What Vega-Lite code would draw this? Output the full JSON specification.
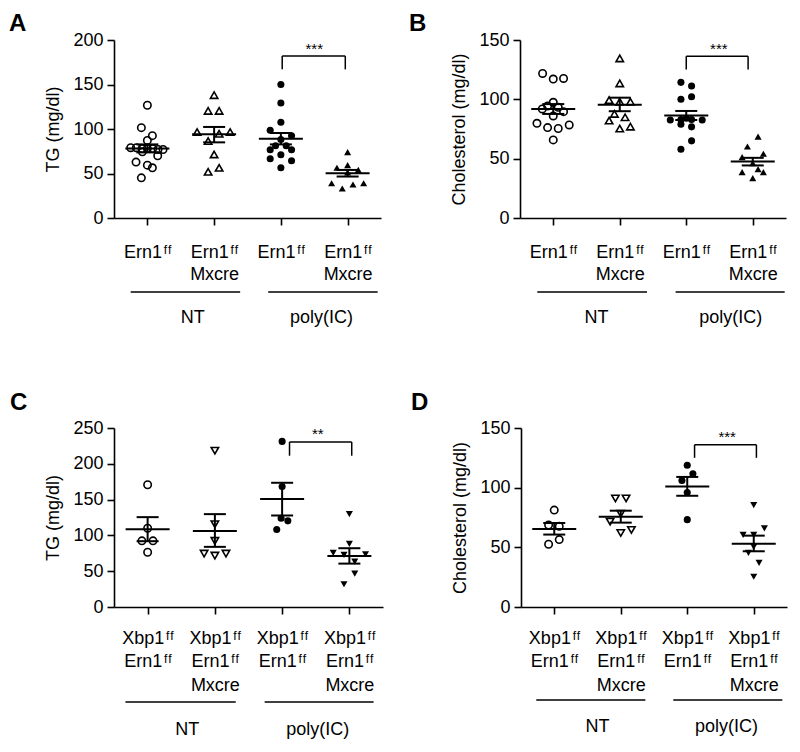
{
"$schema": "https://vega.github.io/schema/vega-lite/v6.json",
"background": "white",
"padding": {"left": 9, "top": 12, "right": 5, "bottom": 5},
"config": {
  "font": "Liberation Sans",
  "view": {"stroke": null},
  "axis": {"domainColor": "black", "tickColor": "black", "labelColor": "black", "titleColor": "black", "domainWidth": 1.6, "tickWidth": 1.6, "tickSize": 7, "labelFontSize": 18, "titleFontSize": 18, "titleFontWeight": "normal", "grid": false, "labelFont": "Liberation Sans", "titleFont": "Liberation Sans", "labelOverlap": false, "labelFlush": false},
  "title": {"fontSize": 24, "fontWeight": "bold", "anchor": "start", "color": "black", "font": "Liberation Sans", "frame": "group", "offset": 0}
},
"datasets": {
  "points": [
    {"panel":"A","treatment":"NT","genotype":"ctrl","x":1.0,"value":126.7},
    {"panel":"A","treatment":"NT","genotype":"ctrl","x":0.91,"value":101.5},
    {"panel":"A","treatment":"NT","genotype":"ctrl","x":1.075,"value":92.5},
    {"panel":"A","treatment":"NT","genotype":"ctrl","x":1.0,"value":87.2},
    {"panel":"A","treatment":"NT","genotype":"ctrl","x":0.75,"value":79},
    {"panel":"A","treatment":"NT","genotype":"ctrl","x":0.835,"value":79},
    {"panel":"A","treatment":"NT","genotype":"ctrl","x":0.92,"value":78},
    {"panel":"A","treatment":"NT","genotype":"ctrl","x":1.0,"value":78},
    {"panel":"A","treatment":"NT","genotype":"ctrl","x":1.08,"value":78},
    {"panel":"A","treatment":"NT","genotype":"ctrl","x":1.16,"value":77},
    {"panel":"A","treatment":"NT","genotype":"ctrl","x":1.235,"value":77},
    {"panel":"A","treatment":"NT","genotype":"ctrl","x":0.925,"value":74.4},
    {"panel":"A","treatment":"NT","genotype":"ctrl","x":1.155,"value":69.9},
    {"panel":"A","treatment":"NT","genotype":"ctrl","x":0.83,"value":62.8},
    {"panel":"A","treatment":"NT","genotype":"ctrl","x":1.0,"value":59.4},
    {"panel":"A","treatment":"NT","genotype":"ctrl","x":1.075,"value":56.4},
    {"panel":"A","treatment":"NT","genotype":"ctrl","x":0.91,"value":45.1},
    {"panel":"A","treatment":"NT","genotype":"cre","x":2.0,"value":138},
    {"panel":"A","treatment":"NT","genotype":"cre","x":1.91,"value":120.3},
    {"panel":"A","treatment":"NT","genotype":"cre","x":2.075,"value":120.3},
    {"panel":"A","treatment":"NT","genotype":"cre","x":1.745,"value":96.6},
    {"panel":"A","treatment":"NT","genotype":"cre","x":2.075,"value":94.7},
    {"panel":"A","treatment":"NT","genotype":"cre","x":2.24,"value":96.6},
    {"panel":"A","treatment":"NT","genotype":"cre","x":1.91,"value":86.5},
    {"panel":"A","treatment":"NT","genotype":"cre","x":2.0,"value":71.4},
    {"panel":"A","treatment":"NT","genotype":"cre","x":1.91,"value":51.9},
    {"panel":"A","treatment":"NT","genotype":"cre","x":2.075,"value":56.4},
    {"panel":"A","treatment":"poly","genotype":"ctrl","x":3.0,"value":150},
    {"panel":"A","treatment":"poly","genotype":"ctrl","x":3.0,"value":129.3},
    {"panel":"A","treatment":"poly","genotype":"ctrl","x":3.0,"value":107.5},
    {"panel":"A","treatment":"poly","genotype":"ctrl","x":2.84,"value":98.5},
    {"panel":"A","treatment":"poly","genotype":"ctrl","x":3.16,"value":92.5},
    {"panel":"A","treatment":"poly","genotype":"ctrl","x":3.0,"value":88.3},
    {"panel":"A","treatment":"poly","genotype":"ctrl","x":2.92,"value":81.2},
    {"panel":"A","treatment":"poly","genotype":"ctrl","x":3.08,"value":81.2},
    {"panel":"A","treatment":"poly","genotype":"ctrl","x":2.84,"value":76.7},
    {"panel":"A","treatment":"poly","genotype":"ctrl","x":3.16,"value":76.7},
    {"panel":"A","treatment":"poly","genotype":"ctrl","x":3.0,"value":71},
    {"panel":"A","treatment":"poly","genotype":"ctrl","x":2.84,"value":66.5},
    {"panel":"A","treatment":"poly","genotype":"ctrl","x":3.16,"value":64.3},
    {"panel":"A","treatment":"poly","genotype":"ctrl","x":3.0,"value":56.4},
    {"panel":"A","treatment":"poly","genotype":"cre","x":4.0,"value":74},
    {"panel":"A","treatment":"poly","genotype":"cre","x":3.84,"value":56.4},
    {"panel":"A","treatment":"poly","genotype":"cre","x":4.0,"value":59.4},
    {"panel":"A","treatment":"poly","genotype":"cre","x":4.16,"value":54.1},
    {"panel":"A","treatment":"poly","genotype":"cre","x":4.0,"value":51.1},
    {"panel":"A","treatment":"poly","genotype":"cre","x":3.76,"value":39.1},
    {"panel":"A","treatment":"poly","genotype":"cre","x":3.92,"value":33.1},
    {"panel":"A","treatment":"poly","genotype":"cre","x":4.08,"value":37.6},
    {"panel":"A","treatment":"poly","genotype":"cre","x":4.24,"value":39.1},

    {"panel":"B","treatment":"NT","genotype":"ctrl","x":0.84,"value":121.8},
    {"panel":"B","treatment":"NT","genotype":"ctrl","x":1.0,"value":117.1},
    {"panel":"B","treatment":"NT","genotype":"ctrl","x":1.155,"value":117.6},
    {"panel":"B","treatment":"NT","genotype":"ctrl","x":1.0,"value":97.5},
    {"panel":"B","treatment":"NT","genotype":"ctrl","x":0.915,"value":94.4},
    {"panel":"B","treatment":"NT","genotype":"ctrl","x":1.075,"value":93.3},
    {"panel":"B","treatment":"NT","genotype":"ctrl","x":0.835,"value":91.9},
    {"panel":"B","treatment":"NT","genotype":"ctrl","x":1.155,"value":89.6},
    {"panel":"B","treatment":"NT","genotype":"ctrl","x":1.0,"value":86},
    {"panel":"B","treatment":"NT","genotype":"ctrl","x":0.755,"value":79.8},
    {"panel":"B","treatment":"NT","genotype":"ctrl","x":0.915,"value":76.2},
    {"panel":"B","treatment":"NT","genotype":"ctrl","x":1.075,"value":75.4},
    {"panel":"B","treatment":"NT","genotype":"ctrl","x":1.24,"value":78.4},
    {"panel":"B","treatment":"NT","genotype":"ctrl","x":1.0,"value":65.8},
    {"panel":"B","treatment":"NT","genotype":"cre","x":2.0,"value":134.5},
    {"panel":"B","treatment":"NT","genotype":"cre","x":2.0,"value":113.4},
    {"panel":"B","treatment":"NT","genotype":"cre","x":1.84,"value":99.4},
    {"panel":"B","treatment":"NT","genotype":"cre","x":2.0,"value":98},
    {"panel":"B","treatment":"NT","genotype":"cre","x":2.16,"value":98},
    {"panel":"B","treatment":"NT","genotype":"cre","x":1.92,"value":87.7},
    {"panel":"B","treatment":"NT","genotype":"cre","x":2.08,"value":84.9},
    {"panel":"B","treatment":"NT","genotype":"cre","x":1.84,"value":82.1},
    {"panel":"B","treatment":"NT","genotype":"cre","x":2.0,"value":75.4},
    {"panel":"B","treatment":"NT","genotype":"cre","x":2.16,"value":77},
    {"panel":"B","treatment":"poly","genotype":"ctrl","x":2.92,"value":114.3},
    {"panel":"B","treatment":"poly","genotype":"ctrl","x":3.08,"value":111.2},
    {"panel":"B","treatment":"poly","genotype":"ctrl","x":2.92,"value":100},
    {"panel":"B","treatment":"poly","genotype":"ctrl","x":3.08,"value":102.2},
    {"panel":"B","treatment":"poly","genotype":"ctrl","x":2.76,"value":82.6},
    {"panel":"B","treatment":"poly","genotype":"ctrl","x":2.92,"value":83},
    {"panel":"B","treatment":"poly","genotype":"ctrl","x":3.0,"value":84},
    {"panel":"B","treatment":"poly","genotype":"ctrl","x":3.08,"value":83},
    {"panel":"B","treatment":"poly","genotype":"ctrl","x":3.24,"value":82.6},
    {"panel":"B","treatment":"poly","genotype":"ctrl","x":2.92,"value":79},
    {"panel":"B","treatment":"poly","genotype":"ctrl","x":3.08,"value":76.8},
    {"panel":"B","treatment":"poly","genotype":"ctrl","x":3.08,"value":65},
    {"panel":"B","treatment":"poly","genotype":"ctrl","x":2.92,"value":58},
    {"panel":"B","treatment":"poly","genotype":"cre","x":4.08,"value":68.6},
    {"panel":"B","treatment":"poly","genotype":"cre","x":3.92,"value":60.2},
    {"panel":"B","treatment":"poly","genotype":"cre","x":3.84,"value":51.3},
    {"panel":"B","treatment":"poly","genotype":"cre","x":4.16,"value":54.1},
    {"panel":"B","treatment":"poly","genotype":"cre","x":4.0,"value":46.2},
    {"panel":"B","treatment":"poly","genotype":"cre","x":3.84,"value":38.7},
    {"panel":"B","treatment":"poly","genotype":"cre","x":4.08,"value":41.2},
    {"panel":"B","treatment":"poly","genotype":"cre","x":4.16,"value":38.7},
    {"panel":"B","treatment":"poly","genotype":"cre","x":4.0,"value":33.6},

    {"panel":"C","treatment":"NT","genotype":"ctrl","x":1.0,"value":170.7},
    {"panel":"C","treatment":"NT","genotype":"ctrl","x":1.0,"value":110},
    {"panel":"C","treatment":"NT","genotype":"ctrl","x":0.915,"value":92.4},
    {"panel":"C","treatment":"NT","genotype":"ctrl","x":1.08,"value":92.4},
    {"panel":"C","treatment":"NT","genotype":"ctrl","x":1.0,"value":76.5},
    {"panel":"C","treatment":"NT","genotype":"cre","x":2.0,"value":218.3},
    {"panel":"C","treatment":"NT","genotype":"cre","x":2.0,"value":115.7},
    {"panel":"C","treatment":"NT","genotype":"cre","x":2.0,"value":92.4},
    {"panel":"C","treatment":"NT","genotype":"cre","x":1.84,"value":74.6},
    {"panel":"C","treatment":"NT","genotype":"cre","x":2.0,"value":71.8},
    {"panel":"C","treatment":"NT","genotype":"cre","x":2.165,"value":74.6},
    {"panel":"C","treatment":"poly","genotype":"ctrl","x":3.0,"value":231.3},
    {"panel":"C","treatment":"poly","genotype":"ctrl","x":3.0,"value":168.4},
    {"panel":"C","treatment":"poly","genotype":"ctrl","x":2.985,"value":124},
    {"panel":"C","treatment":"poly","genotype":"ctrl","x":3.085,"value":120.3},
    {"panel":"C","treatment":"poly","genotype":"ctrl","x":2.92,"value":108.2},
    {"panel":"C","treatment":"poly","genotype":"cre","x":4.0,"value":129.7},
    {"panel":"C","treatment":"poly","genotype":"cre","x":4.0,"value":88.2},
    {"panel":"C","treatment":"poly","genotype":"cre","x":3.76,"value":75.6},
    {"panel":"C","treatment":"poly","genotype":"cre","x":3.92,"value":72.8},
    {"panel":"C","treatment":"poly","genotype":"cre","x":4.24,"value":73.7},
    {"panel":"C","treatment":"poly","genotype":"cre","x":4.08,"value":63.4},
    {"panel":"C","treatment":"poly","genotype":"cre","x":4.08,"value":46.6},
    {"panel":"C","treatment":"poly","genotype":"cre","x":3.92,"value":31.7},

    {"panel":"D","treatment":"NT","genotype":"ctrl","x":1.0,"value":81.2},
    {"panel":"D","treatment":"NT","genotype":"ctrl","x":0.915,"value":68.7},
    {"panel":"D","treatment":"NT","genotype":"ctrl","x":1.075,"value":67.6},
    {"panel":"D","treatment":"NT","genotype":"ctrl","x":0.915,"value":52.6},
    {"panel":"D","treatment":"NT","genotype":"ctrl","x":1.075,"value":56.5},
    {"panel":"D","treatment":"NT","genotype":"cre","x":1.92,"value":91},
    {"panel":"D","treatment":"NT","genotype":"cre","x":2.08,"value":91},
    {"panel":"D","treatment":"NT","genotype":"cre","x":2.0,"value":78.2},
    {"panel":"D","treatment":"NT","genotype":"cre","x":1.84,"value":71.5},
    {"panel":"D","treatment":"NT","genotype":"cre","x":2.16,"value":64.6},
    {"panel":"D","treatment":"NT","genotype":"cre","x":2.0,"value":62},
    {"panel":"D","treatment":"poly","genotype":"ctrl","x":3.0,"value":118.8},
    {"panel":"D","treatment":"poly","genotype":"ctrl","x":3.085,"value":111.6},
    {"panel":"D","treatment":"poly","genotype":"ctrl","x":2.92,"value":106},
    {"panel":"D","treatment":"poly","genotype":"ctrl","x":3.0,"value":96},
    {"panel":"D","treatment":"poly","genotype":"ctrl","x":3.0,"value":73.2},
    {"panel":"D","treatment":"poly","genotype":"cre","x":4.0,"value":85.4},
    {"panel":"D","treatment":"poly","genotype":"cre","x":4.16,"value":65.9},
    {"panel":"D","treatment":"poly","genotype":"cre","x":3.84,"value":60.4},
    {"panel":"D","treatment":"poly","genotype":"cre","x":4.0,"value":60.4},
    {"panel":"D","treatment":"poly","genotype":"cre","x":4.0,"value":50.4},
    {"panel":"D","treatment":"poly","genotype":"cre","x":3.92,"value":45.4},
    {"panel":"D","treatment":"poly","genotype":"cre","x":4.08,"value":37},
    {"panel":"D","treatment":"poly","genotype":"cre","x":4.0,"value":25.3}
  ],
  "summary": [
    {"panel":"A","x":1,"mean":78.2,"lo":73.7,"hi":82.7},
    {"panel":"A","x":2,"mean":94,"lo":85,"hi":102.3},
    {"panel":"A","x":3,"mean":89,"lo":82.7,"hi":95.5},
    {"panel":"A","x":4,"mean":50.4,"lo":46.6,"hi":54},
    {"panel":"B","x":1,"mean":91.9,"lo":87.7,"hi":96},
    {"panel":"B","x":2,"mean":95.5,"lo":90,"hi":101.4},
    {"panel":"B","x":3,"mean":86.3,"lo":82.6,"hi":90.2},
    {"panel":"B","x":4,"mean":47.6,"lo":44.3,"hi":50.7},
    {"panel":"C","x":1,"mean":108.7,"lo":91.9,"hi":125.5},
    {"panel":"C","x":2,"mean":106.3,"lo":84,"hi":129.7},
    {"panel":"C","x":3,"mean":150.7,"lo":127.8,"hi":173.5},
    {"panel":"C","x":4,"mean":71.4,"lo":60.6,"hi":82.1},
    {"panel":"D","x":1,"mean":65.4,"lo":60.7,"hi":70.4},
    {"panel":"D","x":2,"mean":75.7,"lo":70.7,"hi":80.7},
    {"panel":"D","x":3,"mean":101,"lo":93.2,"hi":109},
    {"panel":"D","x":4,"mean":53.1,"lo":46.7,"hi":59.8}
  ],
  "brackets": [
    {"panel":"A","x1":3.02,"x2":3.965,"top":182,"bot":167,"sx":3.5,"sy":184,"label":"***"},
    {"panel":"B","x1":3.0,"x2":3.93,"top":136.4,"bot":125.2,"sx":3.49,"sy":138.5,"label":"***"},
    {"panel":"C","x1":3.11,"x2":4.035,"top":230.4,"bot":211.3,"sx":3.53,"sy":234,"label":"**"},
    {"panel":"D","x1":3.11,"x2":4.04,"top":136,"bot":125,"sx":3.6,"sy":138.6,"label":"***"}
  ],
  "groups": [
    {"panel":"A","name":"NT","start":0.75,"end":2.39,"mid":1.68},
    {"panel":"A","name":"poly(IC)","start":2.81,"end":4.45,"mid":3.61},
    {"panel":"B","name":"NT","start":0.76,"end":2.41,"mid":1.65},
    {"panel":"B","name":"poly(IC)","start":2.84,"end":4.48,"mid":3.67},
    {"panel":"C","name":"NT","start":0.67,"end":2.31,"mid":1.59},
    {"panel":"C","name":"poly(IC)","start":2.74,"end":4.36,"mid":3.53},
    {"panel":"D","name":"NT","start":0.73,"end":2.37,"mid":1.65},
    {"panel":"D","name":"poly(IC)","start":2.79,"end":4.43,"mid":3.59}
  ]
},
"spacing": 63,
"resolve": {"scale": {"shape": "independent"}},
"vconcat": [
 {"spacing": 28, "resolve": {"scale": {"shape": "independent"}}, "hconcat": [
  {"width": 267, "height": 178, "title": {"text": "A", "dx": -105, "dy": 9},
   "layer": [
    {"data": {"name": "points"}, "transform": [{"filter": "datum.panel == 'A' && datum.treatment == 'NT'"}],
     "mark": {"type": "point", "filled": false, "stroke": "black", "strokeWidth": 1.6, "size": 55, "opacity": 1},
     "encoding": {
       "x": {"field": "x", "type": "quantitative", "scale": {"domain": [0.5, 4.5], "nice": false, "zero": false},
             "axis": {"title": null, "values": [1, 2, 3, 4], "labelPadding": 18, "labelLineHeight": 22,
                      "labelExpr": "datum.value == 1 || datum.value == 3 ? 'Ern1\u200a\u1da0\u1da0' : ['Ern1\u200a\u1da0\u1da0', 'Mxcre']"}},
       "y": {"field": "value", "type": "quantitative", "scale": {"domain": [0, 200], "nice": false},
             "axis": {"title": "TG (mg/dl)", "values": [0, 50, 100, 150, 200], "labelPadding": 4, "titlePadding": 10, "labelOverlap": false}},
       "shape": {"field": "genotype", "type": "nominal", "scale": {"domain": ["ctrl", "cre"], "range": ["circle", "triangle-up"]}, "legend": null}
     }},
    {"data": {"name": "points"}, "transform": [{"filter": "datum.panel == 'A' && datum.treatment == 'poly'"}],
     "mark": {"type": "point", "filled": true, "fill": "black", "size": 50, "opacity": 1},
     "encoding": {
       "x": {"field": "x", "type": "quantitative", "scale": {"domain": [0.5, 4.5], "nice": false, "zero": false}},
       "y": {"field": "value", "type": "quantitative", "scale": {"domain": [0, 200], "nice": false}},
       "shape": {"field": "genotype", "type": "nominal", "scale": {"domain": ["ctrl", "cre"], "range": ["circle", "triangle-up"]}, "legend": null}
     }},
    {"data": {"name": "summary"}, "transform": [{"filter": "datum.panel == 'A'"}],
     "mark": {"type": "tick", "orient": "horizontal", "size": 44, "thickness": 2, "color": "black", "opacity": 1},
     "encoding": {"x": {"field": "x", "type": "quantitative", "scale": {"domain": [0.5, 4.5], "nice": false, "zero": false}},
                  "y": {"field": "mean", "type": "quantitative", "scale": {"domain": [0, 200], "nice": false}}}},
    {"data": {"name": "summary"}, "transform": [{"filter": "datum.panel == 'A'"}],
     "mark": {"type": "tick", "orient": "horizontal", "size": 22, "thickness": 2, "color": "black", "opacity": 1},
     "encoding": {"x": {"field": "x", "type": "quantitative", "scale": {"domain": [0.5, 4.5], "nice": false, "zero": false}},
                  "y": {"field": "lo", "type": "quantitative", "scale": {"domain": [0, 200], "nice": false}}}},
    {"data": {"name": "summary"}, "transform": [{"filter": "datum.panel == 'A'"}],
     "mark": {"type": "tick", "orient": "horizontal", "size": 22, "thickness": 2, "color": "black", "opacity": 1},
     "encoding": {"x": {"field": "x", "type": "quantitative", "scale": {"domain": [0.5, 4.5], "nice": false, "zero": false}},
                  "y": {"field": "hi", "type": "quantitative", "scale": {"domain": [0, 200], "nice": false}}}},
    {"data": {"name": "summary"}, "transform": [{"filter": "datum.panel == 'A'"}],
     "mark": {"type": "rule", "strokeWidth": 2, "color": "black"},
     "encoding": {"x": {"field": "x", "type": "quantitative", "scale": {"domain": [0.5, 4.5], "nice": false, "zero": false}},
                  "y": {"field": "lo", "type": "quantitative", "scale": {"domain": [0, 200], "nice": false}},
                  "y2": {"field": "hi"}}},
    {"data": {"name": "brackets"}, "transform": [{"filter": "datum.panel == 'A'"}],
     "mark": {"type": "rule", "strokeWidth": 1.5, "color": "black"},
     "encoding": {"x": {"field": "x1", "type": "quantitative", "scale": {"domain": [0.5, 4.5], "nice": false, "zero": false}}, "x2": {"field": "x2"},
                  "y": {"field": "top", "type": "quantitative", "scale": {"domain": [0, 200], "nice": false}}}},
    {"data": {"name": "brackets"}, "transform": [{"filter": "datum.panel == 'A'"}],
     "mark": {"type": "rule", "strokeWidth": 1.5, "color": "black"},
     "encoding": {"x": {"field": "x1", "type": "quantitative", "scale": {"domain": [0.5, 4.5], "nice": false, "zero": false}},
                  "y": {"field": "bot", "type": "quantitative", "scale": {"domain": [0, 200], "nice": false}}, "y2": {"field": "top"}}},
    {"data": {"name": "brackets"}, "transform": [{"filter": "datum.panel == 'A'"}],
     "mark": {"type": "rule", "strokeWidth": 1.5, "color": "black"},
     "encoding": {"x": {"field": "x2", "type": "quantitative", "scale": {"domain": [0.5, 4.5], "nice": false, "zero": false}},
                  "y": {"field": "bot", "type": "quantitative", "scale": {"domain": [0, 200], "nice": false}}, "y2": {"field": "top"}}},
    {"data": {"name": "brackets"}, "transform": [{"filter": "datum.panel == 'A'"}],
     "mark": {"type": "text", "fontSize": 15, "color": "black", "baseline": "alphabetic", "align": "center"},
     "encoding": {"x": {"field": "sx", "type": "quantitative", "scale": {"domain": [0.5, 4.5], "nice": false, "zero": false}},
                  "y": {"field": "sy", "type": "quantitative", "scale": {"domain": [0, 200], "nice": false}},
                  "text": {"field": "label"}}},
    {"data": {"name": "groups"}, "transform": [{"filter": "datum.panel == 'A'"}],
     "mark": {"type": "rule", "strokeWidth": 1.5, "color": "black"},
     "encoding": {"x": {"field": "start", "type": "quantitative", "scale": {"domain": [0.5, 4.5], "nice": false, "zero": false}}, "x2": {"field": "end"},
                  "y": {"datum": -83.1, "type": "quantitative", "scale": {"domain": [0, 200], "nice": false}}}},
    {"data": {"name": "groups"}, "transform": [{"filter": "datum.panel == 'A'"}],
     "mark": {"type": "text", "fontSize": 18, "color": "black", "baseline": "alphabetic", "align": "center"},
     "encoding": {"x": {"field": "mid", "type": "quantitative", "scale": {"domain": [0.5, 4.5], "nice": false, "zero": false}},
                  "y": {"datum": -118, "type": "quantitative", "scale": {"domain": [0, 200], "nice": false}},
                  "text": {"field": "name"}}}
   ]},
  {"width": 266, "height": 178, "title": {"text": "B", "dx": -111, "dy": 9},
   "layer": [
    {"data": {"name": "points"}, "transform": [{"filter": "datum.panel == 'B' && datum.treatment == 'NT'"}],
     "mark": {"type": "point", "filled": false, "stroke": "black", "strokeWidth": 1.6, "size": 55, "opacity": 1},
     "encoding": {
       "x": {"field": "x", "type": "quantitative", "scale": {"domain": [0.5, 4.5], "nice": false, "zero": false},
             "axis": {"title": null, "values": [1, 2, 3, 4], "labelPadding": 18, "labelLineHeight": 22,
                      "labelExpr": "datum.value == 1 || datum.value == 3 ? 'Ern1\u200a\u1da0\u1da0' : ['Ern1\u200a\u1da0\u1da0', 'Mxcre']"}},
       "y": {"field": "value", "type": "quantitative", "scale": {"domain": [0, 150], "nice": false},
             "axis": {"title": "Cholesterol (mg/dl)", "values": [0, 50, 100, 150], "labelPadding": 4, "titlePadding": 10, "labelOverlap": false}},
       "shape": {"field": "genotype", "type": "nominal", "scale": {"domain": ["ctrl", "cre"], "range": ["circle", "triangle-up"]}, "legend": null}
     }},
    {"data": {"name": "points"}, "transform": [{"filter": "datum.panel == 'B' && datum.treatment == 'poly'"}],
     "mark": {"type": "point", "filled": true, "fill": "black", "size": 50, "opacity": 1},
     "encoding": {
       "x": {"field": "x", "type": "quantitative", "scale": {"domain": [0.5, 4.5], "nice": false, "zero": false}},
       "y": {"field": "value", "type": "quantitative", "scale": {"domain": [0, 150], "nice": false}},
       "shape": {"field": "genotype", "type": "nominal", "scale": {"domain": ["ctrl", "cre"], "range": ["circle", "triangle-up"]}, "legend": null}
     }},
    {"data": {"name": "summary"}, "transform": [{"filter": "datum.panel == 'B'"}],
     "mark": {"type": "tick", "orient": "horizontal", "size": 44, "thickness": 2, "color": "black", "opacity": 1},
     "encoding": {"x": {"field": "x", "type": "quantitative", "scale": {"domain": [0.5, 4.5], "nice": false, "zero": false}},
                  "y": {"field": "mean", "type": "quantitative", "scale": {"domain": [0, 150], "nice": false}}}},
    {"data": {"name": "summary"}, "transform": [{"filter": "datum.panel == 'B'"}],
     "mark": {"type": "tick", "orient": "horizontal", "size": 22, "thickness": 2, "color": "black", "opacity": 1},
     "encoding": {"x": {"field": "x", "type": "quantitative", "scale": {"domain": [0.5, 4.5], "nice": false, "zero": false}},
                  "y": {"field": "lo", "type": "quantitative", "scale": {"domain": [0, 150], "nice": false}}}},
    {"data": {"name": "summary"}, "transform": [{"filter": "datum.panel == 'B'"}],
     "mark": {"type": "tick", "orient": "horizontal", "size": 22, "thickness": 2, "color": "black", "opacity": 1},
     "encoding": {"x": {"field": "x", "type": "quantitative", "scale": {"domain": [0.5, 4.5], "nice": false, "zero": false}},
                  "y": {"field": "hi", "type": "quantitative", "scale": {"domain": [0, 150], "nice": false}}}},
    {"data": {"name": "summary"}, "transform": [{"filter": "datum.panel == 'B'"}],
     "mark": {"type": "rule", "strokeWidth": 2, "color": "black"},
     "encoding": {"x": {"field": "x", "type": "quantitative", "scale": {"domain": [0.5, 4.5], "nice": false, "zero": false}},
                  "y": {"field": "lo", "type": "quantitative", "scale": {"domain": [0, 150], "nice": false}},
                  "y2": {"field": "hi"}}},
    {"data": {"name": "brackets"}, "transform": [{"filter": "datum.panel == 'B'"}],
     "mark": {"type": "rule", "strokeWidth": 1.5, "color": "black"},
     "encoding": {"x": {"field": "x1", "type": "quantitative", "scale": {"domain": [0.5, 4.5], "nice": false, "zero": false}}, "x2": {"field": "x2"},
                  "y": {"field": "top", "type": "quantitative", "scale": {"domain": [0, 150], "nice": false}}}},
    {"data": {"name": "brackets"}, "transform": [{"filter": "datum.panel == 'B'"}],
     "mark": {"type": "rule", "strokeWidth": 1.5, "color": "black"},
     "encoding": {"x": {"field": "x1", "type": "quantitative", "scale": {"domain": [0.5, 4.5], "nice": false, "zero": false}},
                  "y": {"field": "bot", "type": "quantitative", "scale": {"domain": [0, 150], "nice": false}}, "y2": {"field": "top"}}},
    {"data": {"name": "brackets"}, "transform": [{"filter": "datum.panel == 'B'"}],
     "mark": {"type": "rule", "strokeWidth": 1.5, "color": "black"},
     "encoding": {"x": {"field": "x2", "type": "quantitative", "scale": {"domain": [0.5, 4.5], "nice": false, "zero": false}},
                  "y": {"field": "bot", "type": "quantitative", "scale": {"domain": [0, 150], "nice": false}}, "y2": {"field": "top"}}},
    {"data": {"name": "brackets"}, "transform": [{"filter": "datum.panel == 'B'"}],
     "mark": {"type": "text", "fontSize": 15, "color": "black", "baseline": "alphabetic", "align": "center"},
     "encoding": {"x": {"field": "sx", "type": "quantitative", "scale": {"domain": [0.5, 4.5], "nice": false, "zero": false}},
                  "y": {"field": "sy", "type": "quantitative", "scale": {"domain": [0, 150], "nice": false}},
                  "text": {"field": "label"}}},
    {"data": {"name": "groups"}, "transform": [{"filter": "datum.panel == 'B'"}],
     "mark": {"type": "rule", "strokeWidth": 1.5, "color": "black"},
     "encoding": {"x": {"field": "start", "type": "quantitative", "scale": {"domain": [0.5, 4.5], "nice": false, "zero": false}}, "x2": {"field": "end"},
                  "y": {"datum": -62.4, "type": "quantitative", "scale": {"domain": [0, 150], "nice": false}}}},
    {"data": {"name": "groups"}, "transform": [{"filter": "datum.panel == 'B'"}],
     "mark": {"type": "text", "fontSize": 18, "color": "black", "baseline": "alphabetic", "align": "center"},
     "encoding": {"x": {"field": "mid", "type": "quantitative", "scale": {"domain": [0.5, 4.5], "nice": false, "zero": false}},
                  "y": {"datum": -88.5, "type": "quantitative", "scale": {"domain": [0, 150], "nice": false}},
                  "text": {"field": "name"}}}
   ]}
 ]},
 {"spacing": 28, "resolve": {"scale": {"shape": "independent"}}, "hconcat": [
  {"width": 269, "height": 179, "title": {"text": "C", "dx": -104},
   "layer": [
    {"data": {"name": "points"}, "transform": [{"filter": "datum.panel == 'C' && datum.treatment == 'NT'"}],
     "mark": {"type": "point", "filled": false, "stroke": "black", "strokeWidth": 1.6, "size": 55, "opacity": 1},
     "encoding": {
       "x": {"field": "x", "type": "quantitative", "scale": {"domain": [0.5, 4.5], "nice": false, "zero": false},
             "axis": {"title": null, "values": [1, 2, 3, 4], "labelPadding": 15, "labelLineHeight": 23.5,
                      "labelExpr": "datum.value == 1 || datum.value == 3 ? ['Xbp1\u200a\u1da0\u1da0', 'Ern1\u200a\u1da0\u1da0'] : ['Xbp1\u200a\u1da0\u1da0', 'Ern1\u200a\u1da0\u1da0', 'Mxcre']"}},
       "y": {"field": "value", "type": "quantitative", "scale": {"domain": [0, 250], "nice": false},
             "axis": {"title": "TG (mg/dl)", "values": [0, 50, 100, 150, 200, 250], "tickCount": 6, "labelPadding": 4, "titlePadding": 10, "labelOverlap": false, "labelSeparation": -40, "labelBound": false}},
       "shape": {"field": "genotype", "type": "nominal", "scale": {"domain": ["ctrl", "cre"], "range": ["circle", "triangle-down"]}, "legend": null}
     }},
    {"data": {"name": "points"}, "transform": [{"filter": "datum.panel == 'C' && datum.treatment == 'poly'"}],
     "mark": {"type": "point", "filled": true, "fill": "black", "size": 50, "opacity": 1},
     "encoding": {
       "x": {"field": "x", "type": "quantitative", "scale": {"domain": [0.5, 4.5], "nice": false, "zero": false}},
       "y": {"field": "value", "type": "quantitative", "scale": {"domain": [0, 250], "nice": false}},
       "shape": {"field": "genotype", "type": "nominal", "scale": {"domain": ["ctrl", "cre"], "range": ["circle", "triangle-down"]}, "legend": null}
     }},
    {"data": {"name": "summary"}, "transform": [{"filter": "datum.panel == 'C'"}],
     "mark": {"type": "tick", "orient": "horizontal", "size": 44, "thickness": 2, "color": "black", "opacity": 1},
     "encoding": {"x": {"field": "x", "type": "quantitative", "scale": {"domain": [0.5, 4.5], "nice": false, "zero": false}},
                  "y": {"field": "mean", "type": "quantitative", "scale": {"domain": [0, 250], "nice": false}}}},
    {"data": {"name": "summary"}, "transform": [{"filter": "datum.panel == 'C'"}],
     "mark": {"type": "tick", "orient": "horizontal", "size": 22, "thickness": 2, "color": "black", "opacity": 1},
     "encoding": {"x": {"field": "x", "type": "quantitative", "scale": {"domain": [0.5, 4.5], "nice": false, "zero": false}},
                  "y": {"field": "lo", "type": "quantitative", "scale": {"domain": [0, 250], "nice": false}}}},
    {"data": {"name": "summary"}, "transform": [{"filter": "datum.panel == 'C'"}],
     "mark": {"type": "tick", "orient": "horizontal", "size": 22, "thickness": 2, "color": "black", "opacity": 1},
     "encoding": {"x": {"field": "x", "type": "quantitative", "scale": {"domain": [0.5, 4.5], "nice": false, "zero": false}},
                  "y": {"field": "hi", "type": "quantitative", "scale": {"domain": [0, 250], "nice": false}}}},
    {"data": {"name": "summary"}, "transform": [{"filter": "datum.panel == 'C'"}],
     "mark": {"type": "rule", "strokeWidth": 2, "color": "black"},
     "encoding": {"x": {"field": "x", "type": "quantitative", "scale": {"domain": [0.5, 4.5], "nice": false, "zero": false}},
                  "y": {"field": "lo", "type": "quantitative", "scale": {"domain": [0, 250], "nice": false}},
                  "y2": {"field": "hi"}}},
    {"data": {"name": "brackets"}, "transform": [{"filter": "datum.panel == 'C'"}],
     "mark": {"type": "rule", "strokeWidth": 1.5, "color": "black"},
     "encoding": {"x": {"field": "x1", "type": "quantitative", "scale": {"domain": [0.5, 4.5], "nice": false, "zero": false}}, "x2": {"field": "x2"},
                  "y": {"field": "top", "type": "quantitative", "scale": {"domain": [0, 250], "nice": false}}}},
    {"data": {"name": "brackets"}, "transform": [{"filter": "datum.panel == 'C'"}],
     "mark": {"type": "rule", "strokeWidth": 1.5, "color": "black"},
     "encoding": {"x": {"field": "x1", "type": "quantitative", "scale": {"domain": [0.5, 4.5], "nice": false, "zero": false}},
                  "y": {"field": "bot", "type": "quantitative", "scale": {"domain": [0, 250], "nice": false}}, "y2": {"field": "top"}}},
    {"data": {"name": "brackets"}, "transform": [{"filter": "datum.panel == 'C'"}],
     "mark": {"type": "rule", "strokeWidth": 1.5, "color": "black"},
     "encoding": {"x": {"field": "x2", "type": "quantitative", "scale": {"domain": [0.5, 4.5], "nice": false, "zero": false}},
                  "y": {"field": "bot", "type": "quantitative", "scale": {"domain": [0, 250], "nice": false}}, "y2": {"field": "top"}}},
    {"data": {"name": "brackets"}, "transform": [{"filter": "datum.panel == 'C'"}],
     "mark": {"type": "text", "fontSize": 15, "color": "black", "baseline": "alphabetic", "align": "center"},
     "encoding": {"x": {"field": "sx", "type": "quantitative", "scale": {"domain": [0.5, 4.5], "nice": false, "zero": false}},
                  "y": {"field": "sy", "type": "quantitative", "scale": {"domain": [0, 250], "nice": false}},
                  "text": {"field": "label"}}},
    {"data": {"name": "groups"}, "transform": [{"filter": "datum.panel == 'C'"}],
     "mark": {"type": "rule", "strokeWidth": 1.5, "color": "black"},
     "encoding": {"x": {"field": "start", "type": "quantitative", "scale": {"domain": [0.5, 4.5], "nice": false, "zero": false}}, "x2": {"field": "end"},
                  "y": {"datum": -132.7, "type": "quantitative", "scale": {"domain": [0, 250], "nice": false}}}},
    {"data": {"name": "groups"}, "transform": [{"filter": "datum.panel == 'C'"}],
     "mark": {"type": "text", "fontSize": 18, "color": "black", "baseline": "alphabetic", "align": "center"},
     "encoding": {"x": {"field": "mid", "type": "quantitative", "scale": {"domain": [0.5, 4.5], "nice": false, "zero": false}},
                  "y": {"datum": -178.8, "type": "quantitative", "scale": {"domain": [0, 250], "nice": false}},
                  "text": {"field": "name"}}}
   ]},
  {"width": 266, "height": 179, "title": {"text": "D", "dx": -110},
   "layer": [
    {"data": {"name": "points"}, "transform": [{"filter": "datum.panel == 'D' && datum.treatment == 'NT'"}],
     "mark": {"type": "point", "filled": false, "stroke": "black", "strokeWidth": 1.6, "size": 55, "opacity": 1},
     "encoding": {
       "x": {"field": "x", "type": "quantitative", "scale": {"domain": [0.5, 4.5], "nice": false, "zero": false},
             "axis": {"title": null, "values": [1, 2, 3, 4], "labelPadding": 15, "labelLineHeight": 23.5,
                      "labelExpr": "datum.value == 1 || datum.value == 3 ? ['Xbp1\u200a\u1da0\u1da0', 'Ern1\u200a\u1da0\u1da0'] : ['Xbp1\u200a\u1da0\u1da0', 'Ern1\u200a\u1da0\u1da0', 'Mxcre']"}},
       "y": {"field": "value", "type": "quantitative", "scale": {"domain": [0, 150], "nice": false},
             "axis": {"title": "Cholesterol (mg/dl)", "values": [0, 50, 100, 150], "labelPadding": 4, "titlePadding": 10, "labelOverlap": false}},
       "shape": {"field": "genotype", "type": "nominal", "scale": {"domain": ["ctrl", "cre"], "range": ["circle", "triangle-down"]}, "legend": null}
     }},
    {"data": {"name": "points"}, "transform": [{"filter": "datum.panel == 'D' && datum.treatment == 'poly'"}],
     "mark": {"type": "point", "filled": true, "fill": "black", "size": 50, "opacity": 1},
     "encoding": {
       "x": {"field": "x", "type": "quantitative", "scale": {"domain": [0.5, 4.5], "nice": false, "zero": false}},
       "y": {"field": "value", "type": "quantitative", "scale": {"domain": [0, 150], "nice": false}},
       "shape": {"field": "genotype", "type": "nominal", "scale": {"domain": ["ctrl", "cre"], "range": ["circle", "triangle-down"]}, "legend": null}
     }},
    {"data": {"name": "summary"}, "transform": [{"filter": "datum.panel == 'D'"}],
     "mark": {"type": "tick", "orient": "horizontal", "size": 44, "thickness": 2, "color": "black", "opacity": 1},
     "encoding": {"x": {"field": "x", "type": "quantitative", "scale": {"domain": [0.5, 4.5], "nice": false, "zero": false}},
                  "y": {"field": "mean", "type": "quantitative", "scale": {"domain": [0, 150], "nice": false}}}},
    {"data": {"name": "summary"}, "transform": [{"filter": "datum.panel == 'D'"}],
     "mark": {"type": "tick", "orient": "horizontal", "size": 22, "thickness": 2, "color": "black", "opacity": 1},
     "encoding": {"x": {"field": "x", "type": "quantitative", "scale": {"domain": [0.5, 4.5], "nice": false, "zero": false}},
                  "y": {"field": "lo", "type": "quantitative", "scale": {"domain": [0, 150], "nice": false}}}},
    {"data": {"name": "summary"}, "transform": [{"filter": "datum.panel == 'D'"}],
     "mark": {"type": "tick", "orient": "horizontal", "size": 22, "thickness": 2, "color": "black", "opacity": 1},
     "encoding": {"x": {"field": "x", "type": "quantitative", "scale": {"domain": [0.5, 4.5], "nice": false, "zero": false}},
                  "y": {"field": "hi", "type": "quantitative", "scale": {"domain": [0, 150], "nice": false}}}},
    {"data": {"name": "summary"}, "transform": [{"filter": "datum.panel == 'D'"}],
     "mark": {"type": "rule", "strokeWidth": 2, "color": "black"},
     "encoding": {"x": {"field": "x", "type": "quantitative", "scale": {"domain": [0.5, 4.5], "nice": false, "zero": false}},
                  "y": {"field": "lo", "type": "quantitative", "scale": {"domain": [0, 150], "nice": false}},
                  "y2": {"field": "hi"}}},
    {"data": {"name": "brackets"}, "transform": [{"filter": "datum.panel == 'D'"}],
     "mark": {"type": "rule", "strokeWidth": 1.5, "color": "black"},
     "encoding": {"x": {"field": "x1", "type": "quantitative", "scale": {"domain": [0.5, 4.5], "nice": false, "zero": false}}, "x2": {"field": "x2"},
                  "y": {"field": "top", "type": "quantitative", "scale": {"domain": [0, 150], "nice": false}}}},
    {"data": {"name": "brackets"}, "transform": [{"filter": "datum.panel == 'D'"}],
     "mark": {"type": "rule", "strokeWidth": 1.5, "color": "black"},
     "encoding": {"x": {"field": "x1", "type": "quantitative", "scale": {"domain": [0.5, 4.5], "nice": false, "zero": false}},
                  "y": {"field": "bot", "type": "quantitative", "scale": {"domain": [0, 150], "nice": false}}, "y2": {"field": "top"}}},
    {"data": {"name": "brackets"}, "transform": [{"filter": "datum.panel == 'D'"}],
     "mark": {"type": "rule", "strokeWidth": 1.5, "color": "black"},
     "encoding": {"x": {"field": "x2", "type": "quantitative", "scale": {"domain": [0.5, 4.5], "nice": false, "zero": false}},
                  "y": {"field": "bot", "type": "quantitative", "scale": {"domain": [0, 150], "nice": false}}, "y2": {"field": "top"}}},
    {"data": {"name": "brackets"}, "transform": [{"filter": "datum.panel == 'D'"}],
     "mark": {"type": "text", "fontSize": 15, "color": "black", "baseline": "alphabetic", "align": "center"},
     "encoding": {"x": {"field": "sx", "type": "quantitative", "scale": {"domain": [0.5, 4.5], "nice": false, "zero": false}},
                  "y": {"field": "sy", "type": "quantitative", "scale": {"domain": [0, 150], "nice": false}},
                  "text": {"field": "label"}}},
    {"data": {"name": "groups"}, "transform": [{"filter": "datum.panel == 'D'"}],
     "mark": {"type": "rule", "strokeWidth": 1.5, "color": "black"},
     "encoding": {"x": {"field": "start", "type": "quantitative", "scale": {"domain": [0.5, 4.5], "nice": false, "zero": false}}, "x2": {"field": "end"},
                  "y": {"datum": -78, "type": "quantitative", "scale": {"domain": [0, 150], "nice": false}}}},
    {"data": {"name": "groups"}, "transform": [{"filter": "datum.panel == 'D'"}],
     "mark": {"type": "text", "fontSize": 18, "color": "black", "baseline": "alphabetic", "align": "center"},
     "encoding": {"x": {"field": "mid", "type": "quantitative", "scale": {"domain": [0.5, 4.5], "nice": false, "zero": false}},
                  "y": {"datum": -104.8, "type": "quantitative", "scale": {"domain": [0, 150], "nice": false}},
                  "text": {"field": "name"}}}
   ]}
 ]}
]
}
